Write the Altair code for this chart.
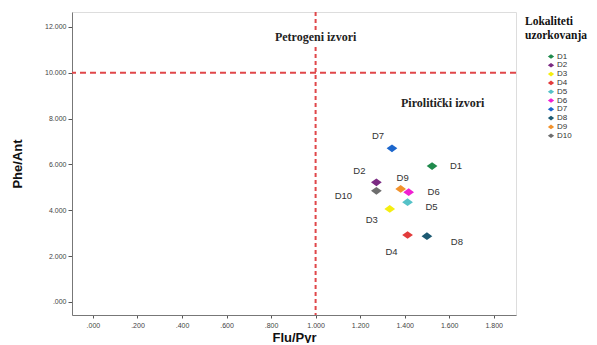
import altair as alt
import pandas as pd

labels = ["D1", "D2", "D3", "D4", "D5", "D6", "D7", "D8", "D9", "D10"]
flu_pyr = [1.523, 1.273, 1.333, 1.413, 1.413, 1.418, 1.343, 1.500, 1.382, 1.273]
phe_ant = [5.93, 5.22, 4.06, 2.92, 4.35, 4.79, 6.70, 2.87, 4.93, 4.85]
colors = ["#1f8a4c", "#7b2a82", "#f5ee10", "#e23b3b", "#55c2c8",
          "#f020d2", "#1c66cc", "#1d5a72", "#f2922c", "#6e6e6e"]

x_ticks = [0, 0.2, 0.4, 0.6, 0.8, 1.0, 1.2, 1.4, 1.6, 1.8]
y_ticks = [0, 2, 4, 6, 8, 10, 12]

ref_x = [1.0]
ref_y = [10.0]

zone_names = ["Petrogeni izvori", "Pirolitički izvori"]
zone_x = [1.0, 1.571]
zone_y = [11.58, 8.68]

# label offsets in pixels (dx, dy) for each point label
label_dx = [24, -17, -18, -16, 24, 25, -14, 30, 2, -33]
label_dy = [0, -11, 11, 17, 5, 0, -12, 6, -11, 5]

df = pd.DataFrame({"label": labels, "x": flu_pyr, "y": phe_ant})
zones = pd.DataFrame({"name": zone_names, "x": zone_x, "y": zone_y})

xscale = alt.Scale(domain=[-0.094, 1.9], nice=False, zero=False)
yscale = alt.Scale(domain=[-0.57, 12.65], nice=False, zero=False)

fmt_expr = "datum.value < 1 ? '.' + substring(format(datum.value, '.3f'), 2) : format(datum.value, '.3f')"

x_enc = alt.X("x:Q", scale=xscale, title="Flu/Pyr",
              axis=alt.Axis(values=x_ticks, labelExpr=fmt_expr, grid=False,
                            titleFont="Liberation Sans", titleFontWeight="bold",
                            titleFontSize=13, titlePadding=3, titleColor="#111",
                            labelFont="Liberation Sans", labelFontSize=7,
                            labelColor="#444", tickSize=3, tickColor="#555",
                            domainColor="#777", labelPadding=3))
y_enc = alt.Y("y:Q", scale=yscale, title="Phe/Ant",
              axis=alt.Axis(values=y_ticks, labelExpr=fmt_expr, grid=False,
                            titleFont="Liberation Sans", titleFontWeight="bold",
                            titleFontSize=13, titlePadding=20, titleColor="#111",
                            labelFont="Liberation Sans", labelFontSize=7,
                            labelColor="#444", tickSize=4, tickColor="#555",
                            domainColor="#777", labelPadding=2))

diamond = "M-1,0L0,-0.72L1,0L0,0.72Z"

points = alt.Chart(df).mark_point(filled=True, shape=diamond, size=115, opacity=1).encode(
    x=x_enc, y=y_enc,
    color=alt.Color("label:N",
                    scale=alt.Scale(domain=labels, range=colors),
                    sort=labels,
                    legend=alt.Legend(
                        title=["Lokaliteti", "uzorkovanja"],
                        titleFont="Liberation Serif", titleFontSize=11.5,
                        titleFontWeight="bold", titleColor="#111",
                        titleLineHeight=14, titlePadding=11,
                        labelFont="Liberation Sans", labelFontSize=8,
                        labelColor="#333", symbolSize=40, rowPadding=0.8,
                        symbolType=diamond, labelOffset=2,
                        orient="none", legendX=453, legendY=4,
                        symbolOffset=22)),
)

vline = alt.Chart(pd.DataFrame({"x": ref_x})).mark_rule(
    color="#e0474a", strokeWidth=2, strokeDash=[4, 3]).encode(x=alt.X("x:Q", scale=xscale))
hline = alt.Chart(pd.DataFrame({"y": ref_y})).mark_rule(
    color="#e0474a", strokeWidth=2, strokeDash=[6, 4]).encode(y=alt.Y("y:Q", scale=yscale))

zone_halo = alt.Chart(zones).mark_text(
    font="Liberation Serif", fontWeight="bold", fontSize=12, color="white",
    stroke="white", strokeWidth=6).encode(
    x=alt.X("x:Q", scale=xscale), y=alt.Y("y:Q", scale=yscale), text="name:N")
zone_text = alt.Chart(zones).mark_text(
    font="Liberation Serif", fontWeight="bold", fontSize=12, color="#222").encode(
    x=alt.X("x:Q", scale=xscale), y=alt.Y("y:Q", scale=yscale), text="name:N")

label_layers = []
for lab, dx, dy in zip(labels, label_dx, label_dy):
    label_layers.append(
        alt.Chart(df).transform_filter(alt.datum.label == lab).mark_text(
            font="Liberation Sans", fontSize=9.5, color="#333", dx=dx, dy=dy).encode(
            x=alt.X("x:Q", scale=xscale), y=alt.Y("y:Q", scale=yscale), text="label:N"))

chart = alt.layer(vline, hline, zone_halo, zone_text, points, *label_layers).properties(
    width=444, height=303,
    autosize=alt.AutoSizeParams(type="none"),
    padding={"left": 64, "top": 4, "right": 73, "bottom": 28},
).configure_view(stroke="#777", strokeWidth=1).configure(background="white")

chart.save("out.html", embed_options={"renderer": "svg", "actions": False})
